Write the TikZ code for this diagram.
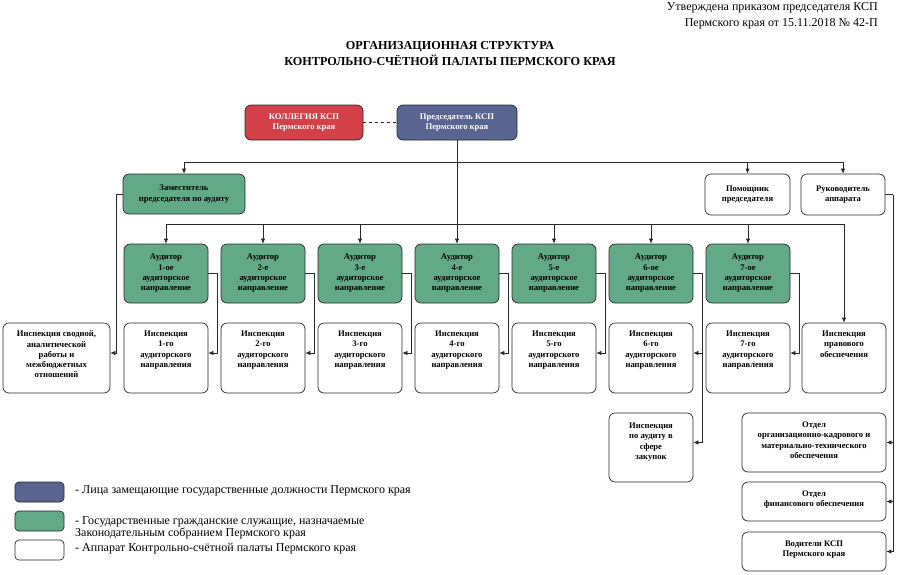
\documentclass[tikz,border=0pt]{standalone}
\usepackage{fontspec}
\setmainfont{Liberation Serif}
\usetikzlibrary{arrows.meta}
\definecolor{kred}{RGB}{211,64,72}
\definecolor{kblue}{RGB}{89,101,145}
\definecolor{kgreen}{RGB}{98,170,135}
\definecolor{kline}{RGB}{40,40,40}
\begin{document}
\begin{tikzpicture}[x=1pt,y=-1pt,
  font=\fontsize{8.6}{10.3}\selectfont\bfseries,
  box/.style={draw=kline, line width=0.7pt, rounded corners=6pt, align=center, inner sep=1pt},
  wbox/.style={box, fill=white},
  gbox/.style={box, fill=kgreen},
  toplab/.style={align=center, anchor=north, inner sep=0pt, yshift=-#1},
  ln/.style={draw=kline, line width=0.7pt},
  arr/.style={ln, -{Latex[length=5pt,width=4.5pt]}},
  legtext/.style={anchor=west, inner sep=0pt, align=left, font=\normalfont\fontsize{12}{10.5}\selectfont}]
\useasboundingbox (0,0) rectangle (900,574);

% header
\node[anchor=north east, align=right, inner sep=0pt, font=\normalfont\fontsize{12}{16}\selectfont] (appr) at (878,2)
  {Утверждена приказом председателя КСП\\Пермского края от 15.11.2018 № 42-П};
\node[align=center, inner sep=0pt, font=\bfseries\fontsize{12.2}{16}\selectfont] (title) at (450,54)
  {ОРГАНИЗАЦИОННАЯ СТРУКТУРА\\КОНТРОЛЬНО-СЧЁТНОЙ ПАЛАТЫ ПЕРМСКОГО КРАЯ};

% top boxes
\node[box, fill=kred, text=white, minimum width=118pt, minimum height=35pt] (kol) at (304,122.5)
  {КОЛЛЕГИЯ КСП\\Пермского края};
\node[box, fill=kblue, text=white, minimum width=120pt, minimum height=35pt] (pred) at (457,122.5)
  {Председатель КСП\\Пермского края};
\draw[ln, dashed] (kol.east) -- (pred.west);

\node[gbox, minimum width=122pt, minimum height=40pt] (zam) at (184,194) {Заместитель\\председателя по аудиту};
\node[wbox, minimum width=85pt, minimum height=41pt] (pom) at (747.5,194.5) {Помощник\\председателя};
\node[wbox, minimum width=84pt, minimum height=41pt] (ruk) at (843,194.5) {Руководитель\\аппарата};

% auditors and inspections
\foreach \i/\x/\s in {1/166/ое,2/263/е,3/360/е,4/457/е,5/554/е,6/651/ое,7/748/ое} {
  \node[gbox, minimum width=84pt, minimum height=59pt] (aud\i) at (\x,273.5)
    {Аудитор\\\i-\s\\аудиторское\\направление};
  \node[wbox, minimum width=84pt, minimum height=70pt,
    label={[toplab=8pt]north:{Инспекция\\\i-го\\аудиторского\\направления}}] (ins\i) at (\x,358) {};
}
\node[wbox, minimum width=107pt, minimum height=70pt,
  label={[toplab=8pt]north:{Инспекция сводной,\\аналитической\\работы и\\межбюджетных\\отношений}}] (svod) at (56.5,358) {};
\node[wbox, minimum width=84pt, minimum height=70pt,
  label={[toplab=8pt]north:{Инспекция\\правового\\обеспечения}}] (pravo) at (844,358) {};
\node[wbox, minimum width=84pt, minimum height=69pt,
  label={[toplab=10pt]north:{Инспекция\\по аудиту в\\сфере\\закупок}}] (zak) at (651,447.5) {};
\node[wbox, minimum width=144pt, minimum height=59pt,
  label={[toplab=9pt]north:{Отдел\\организационно-кадрового и\\материально-технического\\обеспечения}}] (otd1) at (814,442.5) {};
\node[wbox, minimum width=144pt, minimum height=39pt,
  label={[toplab=9pt]north:{Отдел\\финансового обеспечения}}] (otd2) at (814,501.5) {};
\node[wbox, minimum width=144pt, minimum height=39pt,
  label={[toplab=9pt]north:{Водители КСП\\Пермского края}}] (vod) at (814,551.5) {};

% connectors
\coordinate (b1) at (457,162);
\coordinate (b2) at (457,224);
\draw[arr] (pred.south) -- (aud4.north);
\draw[arr] (b1) -| (zam.north);
\draw[arr] (b1) -| (pom.north);
\draw[arr] (b1) -| (ruk.north);
\foreach \i in {1,2,3,5,6,7} { \draw[arr] (b2) -| (aud\i.north); }
\draw[arr] (b2) -| (pravo.north);
\foreach \i in {1,...,7} { \draw[arr] (aud\i.east) -- ++(8.5,0) |- ([yshift=5pt]ins\i.east); }
\draw[arr] (aud6.east) -- ++(8.5,0) |- ([yshift=5pt]zak.east);
\draw[arr] (zam.west) -- ++(-6,0) |- ([yshift=5pt]svod.east);
\coordinate (rr) at (893,194.5);
\draw[ln] (ruk.east) -- (rr);
\draw[arr] (rr) |- (vod.east);
\draw[arr] (rr |- otd1.east) -- (otd1.east);
\draw[arr] (rr |- otd2.east) -- (otd2.east);

% legend
\node[box, rounded corners=4pt, fill=kblue, minimum width=49pt, minimum height=20pt] (lg1) at (39.5,492) {};
\node[box, rounded corners=4pt, fill=kgreen, minimum width=49pt, minimum height=20pt] (lg2) at (39.5,521) {};
\node[box, rounded corners=4pt, fill=white, minimum width=49pt, minimum height=20pt] (lg3) at (39.5,550) {};
\node[legtext] (lt1) at (75,491) {- Лица замещающие государственные должности Пермского края};
\node[legtext] (lt2) at (75,528) {- Государственные гражданские служащие, назначаемые\\Законодательным собранием Пермского края};
\node[legtext] (lt3) at (75,549) {- Аппарат Контрольно-счётной палаты Пермского края};
\end{tikzpicture}
\end{document}
